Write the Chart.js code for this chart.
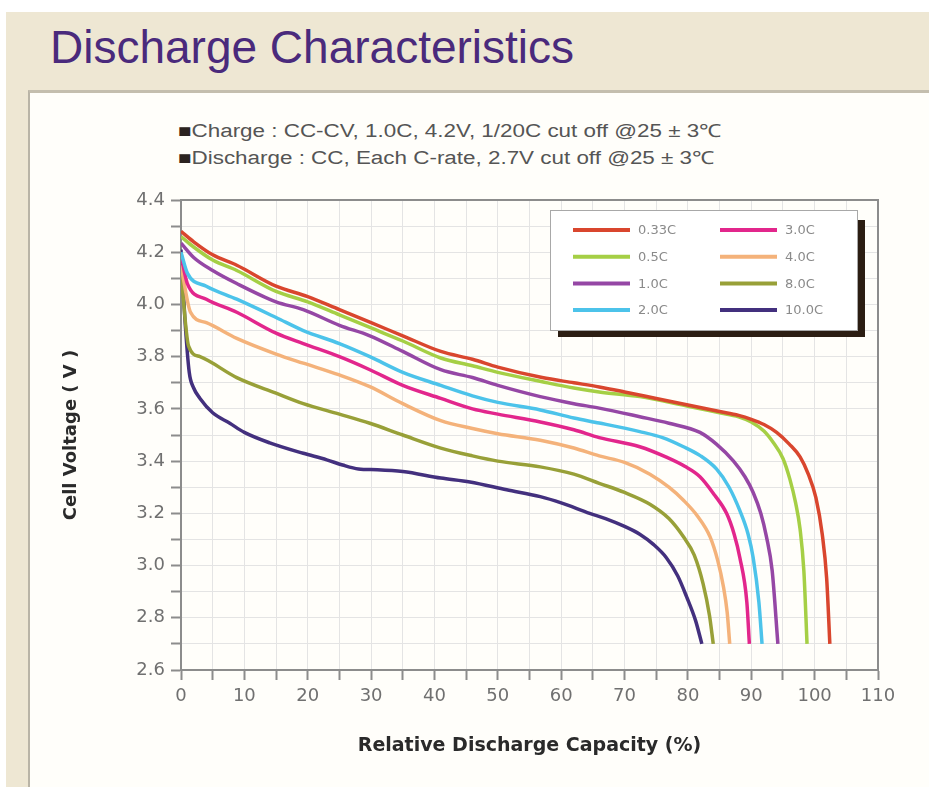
<!DOCTYPE html>
<html>
<head>
<meta charset="utf-8">
<script src="https://cdn.jsdelivr.net/npm/chart.js@4.4.0/dist/chart.umd.min.js"></script>
<style>
  html, body { margin: 0; padding: 0; width: 929px; height: 787px; overflow: hidden; background: #fff; }
  #frame { position: absolute; left: 6px; top: 12px; width: 923px; height: 775px; background: #eee7d3; }
  #panel { position: absolute; left: 28px; top: 90px; width: 901px; height: 697px; background: #fffefa;
           border-left: 2px solid #b9b4a6; border-top: 3px solid #c4beae; box-sizing: border-box; }
  #title { position: absolute; left: 50px; top: 24px; font: 46px "Liberation Sans", Arial, sans-serif;
           line-height: 46px; color: #4a2a7c; white-space: nowrap; }
  #notes { position: absolute; left: 178px; top: 118px; font: 18px "Liberation Sans", Arial, sans-serif;
           line-height: 27px; color: #555; transform: scaleX(1.245); transform-origin: left top; white-space: nowrap; }
  #notes .sq { color: #2b2320; }
  canvas { position: absolute; left: 0; top: 0; }
</style>
</head>
<body>
<div id="frame"></div>
<div id="panel"></div>
<div id="title">Discharge Characteristics</div>
<div id="notes">
  <div><span class="sq">■</span>Charge : CC-CV, 1.0C, 4.2V, 1/20C cut off @25 ± 3℃</div>
  <div><span class="sq">■</span>Discharge : CC, Each C-rate, 2.7V cut off @25 ± 3℃</div>
</div>
<canvas id="chart" width="929" height="787" style="width:929px;height:787px"></canvas>
<script>
// ---- data (capacity %, cell voltage V) ----
const rates = ['0.33C', '0.5C', '1.0C', '2.0C', '3.0C', '4.0C', '8.0C', '10.0C'];
const rateColors = ['#d9462e', '#a5cf45', '#9547a5', '#4cc3ea', '#e2268c', '#f4b27a', '#98a038', '#43307e'];

const c033 = [[0,4.28],[2,4.24],[5,4.19],[8.8,4.15],[15,4.07],[20,4.03],[25,3.98],[30,3.93],[35,3.88],
  [41,3.82],[46,3.79],[50,3.76],[57,3.72],[62,3.70],[66,3.684],[70,3.665],[75,3.64],[80,3.615],[85,3.59],
  [88,3.575],[90,3.56],[92,3.54],[94,3.51],[96,3.465],[97.7,3.416],[99,3.35],[100.2,3.26],[101.2,3.12],
  [101.9,2.95],[102.4,2.70]];
const c05 = [[0,4.26],[2,4.22],[5,4.17],[8.8,4.13],[15,4.05],[20,4.01],[25,3.96],[30,3.91],[35,3.86],
  [41,3.795],[46,3.765],[50,3.74],[57,3.704],[62,3.68],[66,3.665],[72.4,3.647],[80,3.61],[85,3.585],
  [88,3.57],[90,3.55],[92,3.515],[93.5,3.47],[95,3.41],[96.1,3.33],[97,3.24],[97.7,3.14],[98.3,2.98],[98.8,2.70]];
const c10 = [[0,4.235],[2,4.18],[5,4.13],[8.8,4.08],[15,4.01],[19.3,3.98],[25,3.92],[29.8,3.88],[35,3.82],
  [41,3.75],[46,3.72],[50,3.69],[56.7,3.647],[62,3.62],[66,3.603],[72.4,3.57],[77,3.545],[81.9,3.51],
  [84.5,3.465],[87.2,3.40],[89,3.34],[90.3,3.28],[91.5,3.20],[92.4,3.11],[93.3,2.98],[94.2,2.70]];
const c20 = [[0,4.2],[1,4.12],[4,4.07],[8.8,4.02],[15,3.95],[19.3,3.90],[25,3.85],[29.8,3.80],[35,3.74],
  [41,3.69],[46,3.65],[50,3.625],[56.7,3.596],[62,3.565],[66,3.546],[72.4,3.513],[76,3.49],[79.3,3.455],
  [82,3.42],[84.5,3.37],[86.5,3.30],[88.2,3.21],[89.5,3.12],[90.3,3.03],[91.2,2.86],[91.7,2.70]];
const c30 = [[0,4.19],[1,4.08],[4,4.02],[8.8,3.97],[15,3.89],[19.3,3.85],[25,3.80],[29.8,3.75],[35,3.69],
  [41,3.64],[46,3.60],[50,3.58],[56.7,3.55],[62,3.52],[66,3.49],[72.4,3.455],[76.6,3.415],[79.5,3.38],
  [81.9,3.34],[84.2,3.27],[86.1,3.20],[87.3,3.12],[88.2,3.03],[89.3,2.86],[89.7,2.70]];
const c40 = [[0,4.15],[1.5,3.97],[4,3.93],[8.8,3.87],[15,3.81],[19.3,3.775],[25,3.73],[29.8,3.685],[35,3.62],
  [41,3.555],[46,3.525],[50,3.505],[56.7,3.48],[62,3.45],[66,3.42],[70,3.395],[74,3.35],[77,3.30],[79.3,3.25],
  [81.5,3.19],[83.5,3.11],[84.7,3.02],[85.6,2.92],[86.2,2.82],[86.6,2.70]];
const c80 = [[0,4.12],[1.2,3.84],[3,3.80],[8.8,3.72],[15,3.66],[19.3,3.62],[25,3.58],[29.8,3.545],[35,3.50],
  [41,3.45],[46,3.42],[50,3.40],[56.7,3.378],[62,3.35],[66,3.315],[70,3.28],[74,3.235],[77,3.18],[79.3,3.11],
  [81,3.04],[82.4,2.93],[83.4,2.81],[84,2.70]];
const c100 = [[0,4.21],[0.6,3.95],[1.3,3.74],[2,3.68],[3,3.64],[5,3.585],[7.7,3.545],[10,3.51],[14,3.47],
  [19.3,3.43],[23,3.405],[25.5,3.385],[28,3.37],[31,3.367],[35,3.36],[41,3.335],[45.6,3.32],[51.4,3.29],
  [56.7,3.264],[60,3.24],[64.5,3.20],[67,3.18],[70,3.15],[72.4,3.12],[74.6,3.08],[76.6,3.03],[78.4,2.96],
  [79.8,2.88],[81.2,2.79],[82.2,2.70]];
const curves = [c033, c05, c10, c20, c30, c40, c80, c100];

// axis ranges and labelled ticks
const xMin = 0, xMax = 110, xStep = 5;
const yMin = 2.6, yMax = 4.4, yStep = 0.1;
const xTickLabels = [0, 10, 20, 30, 40, 50, 60, 70, 80, 90, 100, 110];
const yTickLabels = ['2.6', '2.8', '3.0', '3.2', '3.4', '3.6', '3.8', '4.0', '4.2', '4.4'];

const tickFont = { family: 'DejaVu Sans', size: 18 };

// frame on top/right of the plot + boxed legend with drop shadow
const frameAndLegend = {
  id: 'frameAndLegend',
  afterDraw(chart) {
    const ctx = chart.ctx, ca = chart.chartArea;
    ctx.save();
    ctx.strokeStyle = '#8c8c8c';
    ctx.lineWidth = 2;
    ctx.beginPath();
    ctx.moveTo(ca.left, ca.top);
    ctx.lineTo(ca.right, ca.top);
    ctx.lineTo(ca.right, ca.bottom);
    ctx.stroke();

    const bx = ca.right - 328, by = ca.top + 10, bw = 307, bh = 120;
    ctx.fillStyle = '#2b1d12';
    ctx.fillRect(bx + 8, by + 10, bw, bh - 3);
    ctx.fillStyle = '#ffffff';
    ctx.fillRect(bx, by, bw, bh);
    ctx.strokeStyle = '#a8a8a8';
    ctx.lineWidth = 1;
    ctx.strokeRect(bx + 0.5, by + 0.5, bw, bh);

    ctx.font = '13px "DejaVu Sans"';
    ctx.textBaseline = 'middle';
    ctx.fillStyle = '#8a8a8a';
    chart.data.datasets.forEach((ds, i) => {
      const col = Math.floor(i / 4), row = i % 4;
      const lx = bx + 23 + col * 147;
      const ly = by + 20 + row * 26.7;
      ctx.strokeStyle = ds.borderColor;
      ctx.lineWidth = 4;
      ctx.beginPath();
      ctx.moveTo(lx, ly);
      ctx.lineTo(lx + 57, ly);
      ctx.stroke();
      ctx.fillText(ds.label, lx + 65, ly + 1);
    });
    ctx.restore();
  }
};

new Chart(document.getElementById('chart'), {
  type: 'line',
  data: {
    datasets: curves.map((pts, i) => ({
      label: rates[i],
      data: pts.map(p => ({ x: p[0], y: p[1] })),
      borderColor: rateColors[i],
      backgroundColor: rateColors[i],
      borderWidth: 3.5,
      pointRadius: 0,
      cubicInterpolationMode: 'monotone',
      fill: false
    }))
  },
  options: {
    responsive: false,
    animation: false,
    layout: { padding: { left: 61, right: 51, top: 200, bottom: 30 } },
    plugins: { legend: { display: false }, tooltip: { enabled: false } },
    scales: {
      x: {
        type: 'linear', min: xMin, max: xMax,
        afterFit(s) { s.height = 87; },
        border: { color: '#8c8c8c', width: 2 },
        grid: { color: '#e4e4e4', tickColor: '#8c8c8c', tickLength: 10, tickWidth: 2 },
        ticks: {
          stepSize: xStep, autoSkip: false, maxRotation: 0, padding: 6,
          color: '#707070', font: tickFont,
          callback: v => xTickLabels.includes(v) ? String(v) : ''
        },
        title: {
          display: true, text: 'Relative Discharge Capacity (%)', color: '#2a2a2a',
          font: { family: 'DejaVu Sans', size: 19, weight: 'bold' }, padding: { top: 0, bottom: 0 }
        }
      },
      y: {
        type: 'linear', min: yMin, max: yMax,
        afterFit(s) { s.width = 120; },
        border: { color: '#8c8c8c', width: 2 },
        grid: { color: '#e4e4e4', tickColor: '#8c8c8c', tickLength: 10, tickWidth: 2 },
        ticks: {
          stepSize: yStep, autoSkip: false, padding: 6,
          color: '#707070', font: tickFont,
          callback: v => {
            const s = v.toFixed(1);
            return Math.round(v * 10) % 2 === 0 && yTickLabels.includes(s) ? s : '';
          }
        },
        title: {
          display: true, text: 'Cell Voltage ( V )', color: '#2a2a2a',
          font: { family: 'DejaVu Sans', size: 18, weight: 'bold' }, padding: { top: 0, bottom: 0 }
        }
      }
    }
  },
  plugins: [frameAndLegend]
});
</script>
</body>
</html>
